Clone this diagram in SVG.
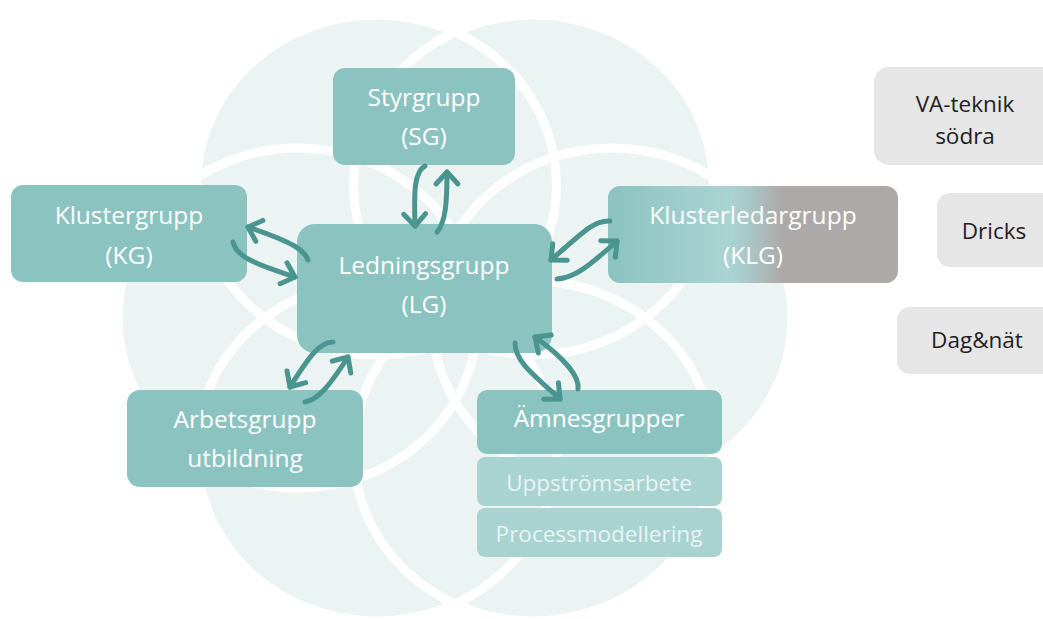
<svg xmlns="http://www.w3.org/2000/svg" width="1043" height="619" viewBox="0 0 1043 619">
  <defs>
    <style>
      .bgfill { fill: #EBF4F3; stroke: none; }
      .bgline { fill: none; stroke: #FFFFFF; stroke-width: 9; }
      .box { fill: #8BC3C1; }
      .sub { fill: #A9D3D1; }
      .grey { fill: #E7E6E6; }
      .lbl { font-family: "Open Sans", "Noto Sans", sans-serif; font-size: 24.5px; fill: #FFFFFF; text-anchor: middle; }
      .sublbl { font-family: "Open Sans", "Noto Sans", sans-serif; font-size: 22.5px; fill: #E8F3F2; text-anchor: middle; }
      .glbl { font-family: "Open Sans", "Noto Sans", sans-serif; font-size: 22.5px; fill: #1E1E1E; text-anchor: middle; }
      .conn { fill: none; stroke: #4A9590; stroke-width: 5; stroke-linecap: round; marker-end: url(#arr); }
    </style>
    <marker id="arr" markerUnits="userSpaceOnUse" viewBox="-20 -15 25 30" refX="0" refY="0" markerWidth="25" markerHeight="30" orient="auto">
      <path d="M-12,-11 L0,0 L-12,11" fill="none" stroke="#4A9590" stroke-width="5" stroke-linecap="round" stroke-linejoin="round"/>
    </marker>
    <linearGradient id="klgGrad" x1="0" y1="0" x2="1" y2="0">
      <stop offset="0" stop-color="#8BC3C1"/>
      <stop offset="0.42" stop-color="#AAD4D2"/>
      <stop offset="0.5" stop-color="#A9C4C3"/>
      <stop offset="0.6" stop-color="#ADA9A8"/>
      <stop offset="1" stop-color="#ADA9A8"/>
    </linearGradient>
  </defs>

  <g id="background">
    <ellipse class="bgfill" cx="612" cy="318" rx="180" ry="170"/>
    <ellipse class="bgfill" cx="298" cy="318" rx="180" ry="170"/>
    <ellipse class="bgfill" cx="533.5" cy="451" rx="180" ry="170"/>
    <ellipse class="bgfill" cx="376.5" cy="451" rx="180" ry="170"/>
    <ellipse class="bgfill" cx="533.5" cy="185" rx="180" ry="170"/>
    <ellipse class="bgfill" cx="376.5" cy="185" rx="180" ry="170"/>
    <ellipse class="bgline" cx="612" cy="318" rx="180" ry="170"/>
    <ellipse class="bgline" cx="298" cy="318" rx="180" ry="170"/>
    <ellipse class="bgline" cx="533.5" cy="451" rx="180" ry="170"/>
    <ellipse class="bgline" cx="376.5" cy="451" rx="180" ry="170"/>
    <ellipse class="bgline" cx="533.5" cy="185" rx="180" ry="170"/>
    <ellipse class="bgline" cx="376.5" cy="185" rx="180" ry="170"/>
  </g>

  <g id="sg">
    <rect class="box" x="333" y="68" width="182" height="97" rx="12"/>
    <text class="lbl" x="424" y="106">Styrgrupp</text>
    <text class="lbl" x="424" y="145">(SG)</text>
  </g>

  <g id="kg">
    <rect class="box" x="11" y="185" width="236" height="97" rx="12"/>
    <text class="lbl" x="129" y="224">Klustergrupp</text>
    <text class="lbl" x="129" y="264">(KG)</text>
  </g>

  <g id="lg">
    <rect class="box" x="297" y="224" width="255" height="129" rx="18"/>
    <text class="lbl" x="424" y="274">Ledningsgrupp</text>
    <text class="lbl" x="424" y="313">(LG)</text>
  </g>

  <g id="klg">
    <rect x="608" y="186" width="290" height="97" rx="12" fill="url(#klgGrad)"/>
    <text class="lbl" x="753" y="224">Klusterledargrupp</text>
    <text class="lbl" x="753" y="264">(KLG)</text>
  </g>

  <g id="arbetsgrupp">
    <rect class="box" x="127" y="390" width="236" height="97" rx="13"/>
    <text class="lbl" x="245" y="428">Arbetsgrupp</text>
    <text class="lbl" x="245" y="467">utbildning</text>
  </g>

  <g id="amnesgrupper">
    <rect class="box" x="477" y="390" width="245" height="64" rx="10"/>
    <text class="lbl" x="599" y="427">Ämnesgrupper</text>
  </g>

  <g id="uppstromsarbete">
    <rect class="sub" x="477" y="457" width="245" height="49" rx="8"/>
    <text class="sublbl" x="599" y="491">Uppströmsarbete</text>
  </g>

  <g id="processmodellering">
    <rect class="sub" x="477" y="508" width="245" height="49" rx="8"/>
    <text class="sublbl" x="599" y="542">Processmodellering</text>
  </g>

  <g id="va-teknik">
    <rect class="grey" x="874" y="67" width="200" height="98" rx="15"/>
    <text class="glbl" x="965" y="112">VA-teknik</text>
    <text class="glbl" x="965" y="144">södra</text>
  </g>

  <g id="dricks">
    <rect class="grey" x="937" y="193" width="140" height="74" rx="13"/>
    <text class="glbl" x="994" y="239">Dricks</text>
  </g>

  <g id="dagnat">
    <rect class="grey" x="897" y="307" width="180" height="67" rx="13"/>
    <text class="glbl" x="977" y="348">Dag&amp;nät</text>
  </g>

  <g id="connectors">
    <path class="conn" d="M425,166 C414,172 414,192 415,226"/>
    <path class="conn" d="M437,232 C446,222 447,200 447,172"/>
    <path class="conn" d="M308,260 C304,250 295,243 248,227"/>
    <path class="conn" d="M233,242 C236,256 252,263 295,277"/>
    <path class="conn" d="M610,221 C595,220 585,230 551,260"/>
    <path class="conn" d="M557,279 C575,278 590,265 617,241"/>
    <path class="conn" d="M515,343 C515,360 530,372 560,399"/>
    <path class="conn" d="M578,389 C580,375 560,355 535,337"/>
    <path class="conn" d="M333,342 C320,342 310,355 290,387"/>
    <path class="conn" d="M305,402 C318,400 330,385 348,357"/>
  </g>
</svg>
